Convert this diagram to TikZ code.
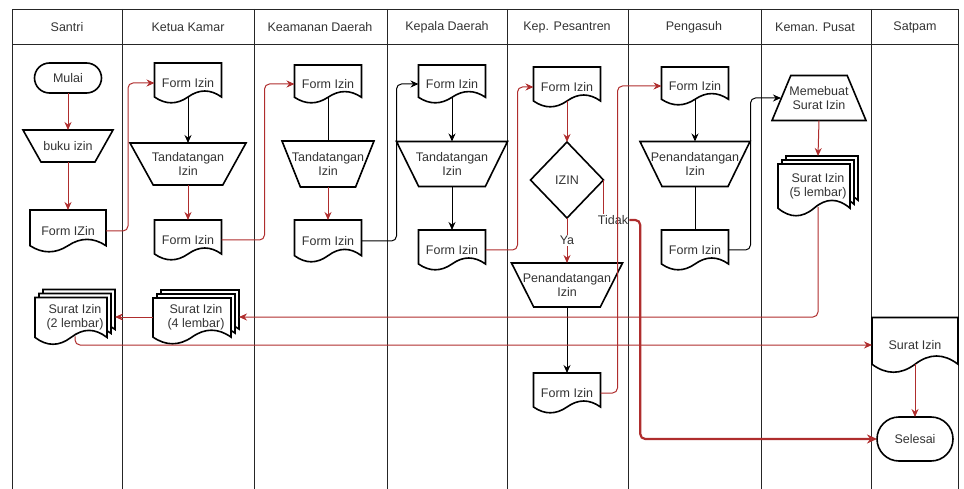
\documentclass[tikz,border=0pt]{standalone}
\usepackage{fontspec}
\setmainfont{Liberation Sans}
\usetikzlibrary{shapes.geometric,shapes.misc,arrows.meta}
\definecolor{arrred}{RGB}{175,45,45}

\newdimen\fcL \newdimen\fcR \newdimen\fcT \newdimen\fcB
\newdimen\fcW \newdimen\fcH \newdimen\fcXa \newdimen\fcXb
\newdimen\fcXc \newdimen\fcYa \newdimen\fcYc \newdimen\fcYe

\makeatletter
% one sheet with a wavy bottom, #1 = shift up right, #2 = cut at the upper right
\newcommand{\sheetpath}[2]{%
  \southwest \fcL=\pgf@x \fcB=\pgf@y
  \northeast \fcR=\pgf@x \fcT=\pgf@y
  \advance\fcL by #1 \advance\fcB by #1
  \advance\fcR by -#2 \advance\fcT by -#2
  \fcW=\fcR \advance\fcW by -\fcL
  \fcH=\fcT \advance\fcH by -\fcB
  \fcYe=\fcB \advance\fcYe by 0.15\fcH
  \fcXa=\fcL \advance\fcXa by 0.75\fcW
  \fcYa=\fcB \advance\fcYa by 0.45\fcH
  \fcXb=\fcL \advance\fcXb by 0.5\fcW
  \fcXc=\fcL \advance\fcXc by 0.25\fcW
  \fcYc=\fcB \advance\fcYc by -0.14\fcH
  \pgfpathmoveto{\pgfqpoint{\fcL}{\fcT}}
  \pgfpathlineto{\pgfqpoint{\fcR}{\fcT}}
  \pgfpathlineto{\pgfqpoint{\fcR}{\fcYe}}
  \pgfpathquadraticcurveto{\pgfqpoint{\fcXa}{\fcYa}}{\pgfqpoint{\fcXb}{\fcYe}}
  \pgfpathquadraticcurveto{\pgfqpoint{\fcXc}{\fcYc}}{\pgfqpoint{\fcL}{\fcYe}}
  \pgfpathclose}
% middle of the wave
\newcommand{\wavebottom}{%
  \southwest \fcL=\pgf@x \fcB=\pgf@y
  \northeast \fcR=\pgf@x \fcT=\pgf@y
  \fcH=\fcT \advance\fcH by -\fcB
  \pgf@x=\fcL \advance\pgf@x by \fcR \pgf@x=0.5\pgf@x
  \pgf@y=\fcB \advance\pgf@y by 0.15\fcH}
% trapezoid, #1 = 1 for the wide side on top
\newcommand{\trappath}[1]{%
  \southwest \fcL=\pgf@x \fcB=\pgf@y
  \northeast \fcR=\pgf@x \fcT=\pgf@y
  \fcW=\fcR \advance\fcW by -\fcL
  \fcXa=\fcL \advance\fcXa by 0.2\fcW
  \fcXb=\fcR \advance\fcXb by -0.2\fcW
  \ifnum#1=1
    \pgfpathmoveto{\pgfqpoint{\fcL}{\fcT}}
    \pgfpathlineto{\pgfqpoint{\fcR}{\fcT}}
    \pgfpathlineto{\pgfqpoint{\fcXb}{\fcB}}
    \pgfpathlineto{\pgfqpoint{\fcXa}{\fcB}}
  \else
    \pgfpathmoveto{\pgfqpoint{\fcXa}{\fcT}}
    \pgfpathlineto{\pgfqpoint{\fcXb}{\fcT}}
    \pgfpathlineto{\pgfqpoint{\fcR}{\fcB}}
    \pgfpathlineto{\pgfqpoint{\fcL}{\fcB}}
  \fi
  \pgfpathclose}

\pgfdeclareshape{docshape}{
  \inheritsavedanchors[from=rectangle]
  \inheritanchorborder[from=rectangle]
  \inheritanchor[from=rectangle]{center}
  \inheritanchor[from=rectangle]{north}
  \inheritanchor[from=rectangle]{east}
  \inheritanchor[from=rectangle]{west}
  \inheritanchor[from=rectangle]{north east}
  \inheritanchor[from=rectangle]{north west}
  \inheritanchor[from=rectangle]{south east}
  \inheritanchor[from=rectangle]{south west}
  \anchor{south}{\wavebottom}
  \backgroundpath{\sheetpath{0pt}{0pt}}
}
\pgfdeclareshape{multishape}{
  \inheritsavedanchors[from=rectangle]
  \inheritanchorborder[from=rectangle]
  \inheritanchor[from=rectangle]{center}
  \inheritanchor[from=rectangle]{north}
  \inheritanchor[from=rectangle]{east}
  \inheritanchor[from=rectangle]{west}
  \inheritanchor[from=rectangle]{north east}
  \inheritanchor[from=rectangle]{north west}
  \inheritanchor[from=rectangle]{south east}
  \inheritanchor[from=rectangle]{south west}
  \anchor{south}{\wavebottom}
  \behindbackgroundpath{%
    \pgfsetfillcolor{white}%
    \sheetpath{8pt}{0pt}\pgfusepath{fill,stroke}%
    \sheetpath{4pt}{4pt}\pgfusepath{fill,stroke}}
  \backgroundpath{\sheetpath{0pt}{8pt}}
}
\pgfdeclareshape{manualshape}{
  \inheritsavedanchors[from=rectangle]
  \inheritanchorborder[from=rectangle]
  \inheritanchor[from=rectangle]{center}
  \inheritanchor[from=rectangle]{north}
  \inheritanchor[from=rectangle]{south}
  \inheritanchor[from=rectangle]{east}
  \inheritanchor[from=rectangle]{west}
  \backgroundpath{\trappath{1}}
}
\pgfdeclareshape{trapshape}{
  \inheritsavedanchors[from=rectangle]
  \inheritanchorborder[from=rectangle]
  \inheritanchor[from=rectangle]{center}
  \inheritanchor[from=rectangle]{north}
  \inheritanchor[from=rectangle]{south}
  \inheritanchor[from=rectangle]{east}
  \inheritanchor[from=rectangle]{west}
  \backgroundpath{\trappath{0}}
}
\makeatother

\begin{document}
\begin{tikzpicture}[x=1pt,y=-1pt,>={Stealth[length=8pt,width=7pt]},
		every node/.style={font=\fontsize{12.5}{14}\selectfont,text=black!80},
		lane/.style={line width=0.8pt,draw=black!85},
		box/.style={draw=black,line width=1.6pt,fill=white,inner sep=0pt,outer sep=0pt,align=center},
		term/.style={box,rounded rectangle,minimum width=67pt,minimum height=30pt},
		form/.style={box,docshape,minimum width=67pt,minimum height=40pt},
		pile/.style={box,multishape},
		manual/.style={box,manualshape,minimum height=45pt},
		decide/.style={box,diamond,aspect=1},
		rline/.style={draw=arrred,line width=1pt,rounded corners=5pt},
		bline/.style={draw=black,line width=1pt,rounded corners=5pt}]
		\useasboundingbox (0,0) rectangle (964,489);
		% lanes
		\draw[lane] (12,495) -- (12,9) -- (958,9) -- (958,495);
		\draw[lane] (12,44) -- (958,44);
		\foreach \x in {122,254,387,507,628,761,871}
			\draw[lane] (\x,9) -- (\x,495);
		\foreach \x/\t/\n in {67/Santri/santri,188/Ketua Kamar/ketua,320/Keamanan Daerah/keamanan,447/Kepala Daerah/kepala,567/Kep. Pesantren/pesantren,694/Pengasuh/pengasuh,815/Keman. Pusat/pusat,915/Satpam/satpam}
			\node (\n) at (\x,27) {\t};
		% Santri
		\node[term] (mulai) at (68,78) {Mulai};
		\node[manual,minimum width=90pt,minimum height=32pt] (buku) at (68,146) {buku izin};
		\node[form,minimum width=76pt,minimum height=42pt] (forma) at (68,231) {Form IZin};
		\node[pile,minimum width=80pt,minimum height=55pt] (lembar2) at (75,317) {Surat Izin\\(2 lembar)};
		% Ketua Kamar
		\node[form] (kkform) at (188,83) {Form Izin};
		\node[manual,minimum width=116pt,minimum height=42pt] (kktd) at (188,164) {Tandatangan\\Izin};
		\node[form] (kkform2) at (188,240) {Form Izin};
		\node[pile,minimum width=86pt,minimum height=54pt] (lembar4) at (196,317) {Surat Izin\\(4 lembar)};
		% Keamanan Daerah
		\node[form,minimum height=38pt] (kdform) at (328,84) {Form Izin};
		\node[manual,minimum width=92pt,minimum height=46pt] (kdtd) at (328,164) {Tandatangan\\Izin};
		\node[form,minimum height=42pt] (kdform2) at (328,241) {Form Izin};
		% Kepala Daerah
		\node[form,minimum height=38pt] (kpform) at (452,84) {Form Izin};
		\node[manual,minimum width=111pt] (kptd) at (452,164) {Tandatangan\\Izin};
		\node[form] (kpform2) at (452,250) {Form Izin};
		% Kep. Pesantren
		\node[form] (psform) at (567,87) {Form Izin};
		\node[decide,minimum width=73pt,minimum height=76pt] (izin) at (567,180) {IZIN};
		\node[manual,minimum width=111pt,minimum height=44pt] (pstd) at (567,285) {Penandatangan\\Izin};
		\node[form] (psform2) at (567,393) {Form Izin};
		\node[inner sep=1pt] (tidak) at (613,220) {Tidak};
		% Pengasuh
		\node[form,minimum height=38pt] (pgform) at (695,86) {Form Izin};
		\node[manual,minimum width=110pt] (pgtd) at (695,164) {Penandatangan\\Izin};
		\node[form] (pgform2) at (695,250) {Form Izin};
		% Keman. Pusat
		\node[box,trapshape,minimum width=94pt,minimum height=45pt] (memebuat) at (819,98) {Memebuat\\Surat Izin};
		\node[pile,minimum width=80pt,minimum height=60pt] (lembar5) at (818,186) {Surat Izin\\(5 lembar)};
		% Satpam
		\node[form,minimum width=86pt,minimum height=55pt] (stsurat) at (915,345) {Surat Izin};
		\node[term,minimum width=76pt,minimum height=44pt] (selesai) at (915,439) {Selesai};

		% connectors
		\draw[rline,->] (mulai.south) -- (buku.north);
		\draw[rline,->] (buku.south) -- (forma.north);
		\draw[rline,->] (forma.east) -- ++(22,0) |- (kkform.west);
		\draw[bline,->] (kkform.south) -- (kktd.north);
		\draw[rline,->] (kktd.south) -- (kkform2.north);
		\draw[rline,->] (kkform2.east) -- ++(43,0) |- (kdform.west);
		\draw[bline] (kdform.south) -- (kdtd.north);
		\draw[rline,->] (kdtd.south) -- (kdform2.north);
		\draw[bline,->] (kdform2.east) -- ++(35,0) |- (kpform.west);
		\draw[bline,->] (kpform.south) -- (kptd.north);
		\draw[bline,->] (kptd.south) -- (kpform2.north);
		\draw[rline,->] (kpform2.east) -- ++(32,0) |- (psform.west);
		\draw[rline,->] (psform.south) -- (izin.north);
		\draw[rline,->] (izin.south) -- node[fill=white,inner sep=1pt] (ya) {Ya} (pstd.north);
		\draw[bline,->] (pstd.south) -- (psform2.north);
		\draw[rline,->] (psform2.east) -- ++(17,0) |- (pgform.west);
		\draw[rline] (izin.east) -- (izin.east |- tidak.north);
		\draw[rline,line width=2.2pt,-{Stealth[length=10pt,width=9pt]}] (tidak.east) -- ++(11,0) |- (selesai.west);
		\draw[bline,->] (pgform.south) -- (pgtd.north);
		\draw[bline] (pgtd.south) -- (pgform2.north);
		\draw[bline,->] (pgform2.east) -- ++(22,0) |- ([xshift=9pt]memebuat.west);
		\draw[rline,->] (memebuat.south) -- (lembar5.north);
		\draw[rline,->] (lembar5.south) |- (lembar4.east);
		\draw[rline,->] (lembar4.west) -- (lembar2.east);
		\draw[rline,->] (lembar2.south) |- (stsurat.west);
		\draw[rline,->] (stsurat.south) -- (selesai.north);
	\end{tikzpicture}
\end{document}
